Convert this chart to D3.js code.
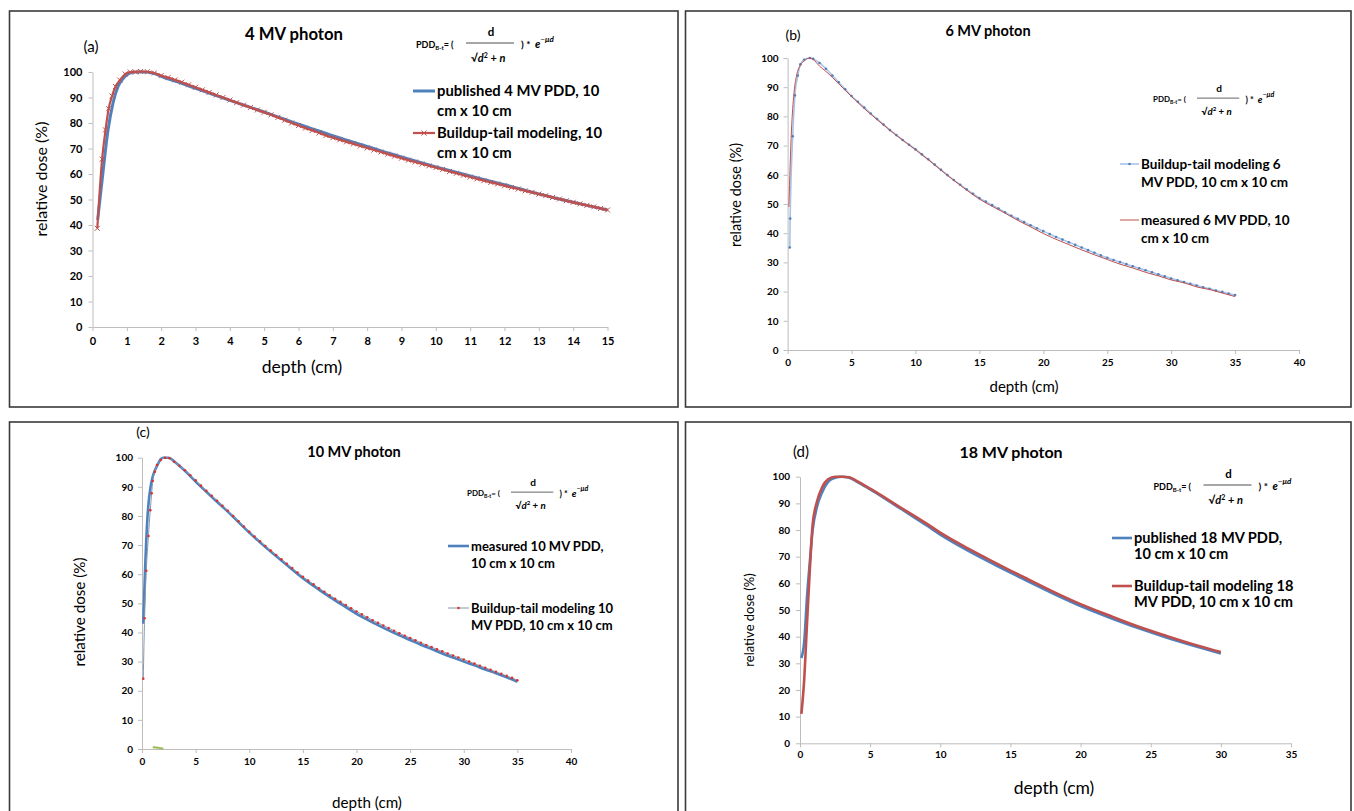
<!DOCTYPE html>
<html>
<head>
<meta charset="utf-8">
<script src="https://cdn.jsdelivr.net/npm/d3@7"></script>
<style>
body { margin: 0; background: #fff; }
svg { display: block; }
text { font-family: Lato, "Open Sans", sans-serif; }
</style>
</head>
<body>
<div id="chart"></div>
<script>
// ---- data ----
var yTicks = [0, 10, 20, 30, 40, 50, 60, 70, 80, 90, 100];
var aXTicks = [0, 1, 2, 3, 4, 5, 6, 7, 8, 9, 10, 11, 12, 13, 14, 15];
var bXTicks = [0, 5, 10, 15, 20, 25, 30, 35, 40];
var cXTicks = [0, 5, 10, 15, 20, 25, 30, 35, 40];
var dXTicks = [0, 5, 10, 15, 20, 25, 30, 35];

var titles = ["4 MV photon", "6 MV photon", "10 MV photon", "18 MV photon"];
var tags = ["(a)", "(b)", "(c)", "(d)"];

// (a) 4 MV
var aPubDepth = [0.15,0.3,0.45,0.6,0.75,0.9,1.05,1.2,1.5,1.8,2,2.5,3,3.5,4,4.5,5,5.5,6,6.5,7,7.5,8,8.5,9,9.5,10,10.5,11,11.5,12,12.5,13,13.5,14,14.5,15];
var aPub = [42,60,77,88,94.5,97.5,99.3,100,100,99.4,98.3,96,93.6,91.2,88.9,86.6,84.3,81.9,79.5,77.3,75,72.9,70.8,68.7,66.7,64.7,62.8,61,59.2,57.5,55.8,54,52.2,50.5,48.9,47.4,45.9];
var aModelDepth = [0.14,0.28,0.38,0.47,0.57,0.67,0.8,0.95,1.1,1.25,
  1.4,1.6,1.8,2.0,2.2,2.4,2.6,2.8,3.0,3.2,3.4,3.6,3.8,4.0,4.2,4.4,4.6,4.8,5.0,5.2,5.4,5.6,5.8,6.0,
  6.2,6.4,6.6,6.8,7.0,7.2,7.4,7.6,7.8,8.0,8.2,8.4,8.6,8.8,9.0,9.2,9.4,9.6,9.8,10.0,10.2,10.4,10.6,10.8,
  11.0,11.2,11.4,11.6,11.8,12.0,12.2,12.4,12.6,12.8,13.0,13.2,13.4,13.6,13.8,14.0,14.2,14.4,14.6,14.8,15.0];
var aModel = [38.7,65.8,77.3,85.6,90.6,94.3,96.8,99.2,100,100,
  100.2,100.1,99.6,98.6,97.8,96.9,96.0,95.0,94.0,93.0,92.0,91.0,90.0,89.0,88.0,87.0,86.1,85.1,84.2,83.2,82.2,81.1,80.0,79.0,
  78.0,77.1,76.1,75.1,74.2,73.4,72.6,71.8,71.0,70.2,69.4,68.6,67.8,67.0,66.2,65.4,64.7,63.9,63.2,62.5,61.8,61.0,60.3,59.5,
  58.8,58.1,57.4,56.7,56.1,55.4,54.7,54.1,53.4,52.8,52.1,51.5,50.8,50.2,49.5,48.9,48.3,47.7,47.1,46.5,45.9];

// (b) 6 MV
var bModelDepth = [0.17,0.2,0.4,0.57,0.8,1.0,1.3,1.75,
  2,2.5,3,3.5,4,4.5,5,5.5,6,6.5,7,7.5,8,8.5,9,9.5,10,10.5,11,11.5,12,12.5,13,13.5,14,14.5,15,15.5,16,16.5,17,17.5,
  18,18.5,19,19.5,20,20.5,21,21.5,22,22.5,23,23.5,24,24.5,25,25.5,26,26.5,27,27.5,28,28.5,29,29.5,30,30.5,31,31.5,
  32,32.5,33,33.5,34,34.5,35];
var bModel = [35.1,45,73.2,87.2,94,97.8,99.4,100,
  99.7,98.3,96.3,94.0,91.7,89.3,87.0,85.0,83.0,81.0,79.1,77.2,75.3,73.6,71.9,70.3,68.7,67.0,65.3,63.5,61.7,59.9,58.2,56.6,55.0,53.5,52.0,50.8,49.6,48.4,47.2,46.0,
  44.9,43.8,42.7,41.7,40.7,39.7,38.7,37.8,36.9,36.0,35.1,34.2,33.3,32.4,31.6,30.8,30.1,29.4,28.7,28.0,27.3,26.6,25.9,25.2,24.5,23.9,23.3,22.7,
  22.1,21.5,21.0,20.4,19.9,19.3,18.8];
var bMeasDepth = [0.1,0.3,0.5,0.7,1.0,1.3,1.7,2.0,2.5,3,4,5,6,7,8,9,10,11,12,13,14,15,16,17,18,19,20,21,22,23,24,25,26,27,28,29,30,31,32,33,34,35];
var bMeas = [49,75,88,94,97.5,99,100,99.5,97.2,95.4,91.2,86.8,82.7,78.9,75.3,71.9,68.6,65.2,61.6,58.1,54.8,51.7,49.2,46.9,44.4,42.2,39.9,37.9,36.1,34.3,32.6,31.0,29.4,28.1,26.6,25.4,24.0,23.0,21.6,20.7,19.5,18.3];

// (c) 10 MV
var cMeasDepth = [0.12,0.2,0.3,0.4,0.5,0.6,0.8,1.0,1.25,1.5,1.75,2,2.5,3,4,5,6,7,8,9,10,11,12,13,14,15,16,17,18,19,20,21,22,23,24,25,26,27,28,29,30,31,32,33,34,35];
var cMeas = [43,52,63,72,79,84,90,93.5,96,98,99.5,100,100,98.7,95.5,91.8,88.3,84.9,81.5,77.9,74.3,71.0,67.8,64.7,61.6,58.6,56.0,53.4,51.0,48.7,46.4,44.4,42.5,40.7,39.0,37.4,35.8,34.3,32.8,31.4,30.0,28.7,27.3,26.0,24.6,23.1];
var cModelDepth = [0.12,0.24,0.4,0.6,0.77,0.9,1.0,1.2,1.4,1.75,2.15,2.56,
  3,3.5,4,4.5,5,5.5,6,6.5,7,7.5,8,8.5,9,9.5,10,10.5,11,11.5,12,12.5,13,13.5,14,14.5,15,15.5,16,16.5,17,17.5,
  18,18.5,19,19.5,20,20.5,21,21.5,22,22.5,23,23.5,24,24.5,25,25.5,26,26.5,27,27.5,28,28.5,29,29.5,30,30.5,31,31.5,
  32,32.5,33,33.5,34,34.5,35];
var cModel = [24.1,44.9,61.2,73.1,82,87.8,92,95.2,97.5,99.2,100,99.8,
  98.6,97.2,95.7,94.0,92.2,90.4,88.6,86.9,85.2,83.5,81.8,80.0,78.2,76.4,74.6,72.9,71.3,69.7,68.1,66.6,65.1,63.6,62.1,60.6,59.1,57.8,56.5,55.2,54.0,52.8,
  51.6,50.5,49.4,48.3,47.2,46.2,45.2,44.2,43.3,42.4,41.5,40.6,39.7,38.9,38.1,37.3,36.5,35.7,35.0,34.2,33.5,32.8,32.1,31.4,30.7,30.0,29.3,28.6,
  27.9,27.2,26.5,25.8,25.1,24.4,23.6];
var cExtraDepth = [1, 1.5, 2];
var cExtra = [0.6, 0.45, 0.1];

// (d) 18 MV
var dPubDepth = [0.1,0.3,0.5,0.7,0.9,1.2,1.6,2.0,2.5,3.0,3.5,4,5,6,7,8,9,10,12,14,15,16,18,20,22,24,25,26,28,30];
var dPub = [32,38,55,68,80,88.5,94.4,98,99.6,100,99.6,98.3,95.2,92,88.6,85.2,81.8,78.3,72.2,66.7,64,61.4,56.3,51.5,47.3,43.4,41.6,39.9,36.7,33.7];
var dModelDepth = [0.1,0.3,0.5,0.7,0.9,1.2,1.6,2.0,2.5,3.0,3.5,4,5,6,7,8,9,10,12,14,15,16,18,20,22,24,25,26,28,30];
var dModel = [11,24,45,65,82,90.5,96.3,99,100,100,99.8,98.5,95.5,92.3,89,85.8,82.5,79,73,67.5,64.8,62.2,57,52.2,48,44,42.2,40.5,37.2,34.2];

var legendA = [["published 4 MV PDD, 10", "cm x 10 cm"], ["Buildup-tail modeling, 10", "cm x 10 cm"]];
var legendB = [["Buildup-tail modeling 6", "MV PDD, 10 cm x 10 cm"], ["measured 6 MV PDD, 10", "cm x 10 cm"]];
var legendC = [["measured 10 MV PDD,", "10 cm x 10 cm"], ["Buildup-tail modeling 10", "MV PDD, 10 cm x 10 cm"]];
var legendD = [["published 18 MV PDD,", "10 cm x 10 cm"], ["Buildup-tail modeling 18", "MV PDD, 10 cm x 10 cm"]];

function zip(xs, ys) {
    return xs.map(function(d, i) { return {x: d, y: ys[i]}; });
}

var blue = "#4f81bd", red = "#c0504d";

var svg = d3.select("#chart")
    .append("svg")
    .attr("width", 1354)
    .attr("height", 811);

function drawMarker(g, kind, cx, cy, color) {
    if (kind == "x") {
        g.append("path")
            .attr("d", "M" + (cx - 2.5) + "," + (cy - 2.5) + "L" + (cx + 2.5) + "," + (cy + 2.5) +
                       "M" + (cx - 2.5) + "," + (cy + 2.5) + "L" + (cx + 2.5) + "," + (cy - 2.5))
            .attr("stroke", color).attr("stroke-width", 1);
    } else if (kind == "dot") {
        g.append("circle").attr("cx", cx).attr("cy", cy).attr("r", 1.3).attr("fill", color);
    }
}

function formula(x0, y0, s) {
    var f = svg.append("g").attr("transform", "translate(" + x0 + "," + y0 + ") scale(" + s + ")");
    var t = f.append("text").attr("x", 0).attr("y", 3.5).attr("font-size", 9).attr("font-weight", "bold");
    t.append("tspan").text("PDD");
    t.append("tspan").attr("font-size", 6).attr("dy", 2).text("B-t");
    t.append("tspan").attr("font-size", 9).attr("dy", -2).text("= (");
    f.append("line").attr("x1", 50).attr("x2", 98).attr("y1", -1).attr("y2", -1)
        .attr("stroke", "#222").attr("stroke-width", 0.8);
    f.append("text").attr("x", 75).attr("y", -8).attr("text-anchor", "middle")
        .attr("font-size", 11.5).attr("font-weight", "bold").text("d");
    var den = f.append("text").attr("x", 55).attr("y", 18)
        .attr("font-family", "'DejaVu Serif', serif").attr("font-size", 11).attr("font-weight", "bold");
    den.append("tspan").attr("font-style", "normal").text("\u221A");
    den.append("tspan").attr("font-style", "italic").text("d");
    den.append("tspan").attr("font-size", 7).attr("dy", -4).text("2");
    den.append("tspan").attr("font-size", 11).attr("dy", 4).text(" + ");
    den.append("tspan").attr("font-style", "italic").text("n");
    f.append("text").attr("x", 105).attr("y", 4).attr("font-size", 10).attr("font-weight", "bold").text(") *");
    var e = f.append("text").attr("x", 119).attr("y", 4)
        .attr("font-family", "'DejaVu Serif', serif").attr("font-style", "italic").attr("font-size", 11).attr("font-weight", "bold");
    e.append("tspan").text("e");
    e.append("tspan").attr("font-size", 8).attr("dy", -6).text("\u2212\u03BCd");
}

function drawPanel(p) {
    svg.append("rect")
        .attr("x", p.box[0]).attr("y", p.box[1])
        .attr("width", p.box[2]).attr("height", p.box[3])
        .attr("fill", "none").attr("stroke", "#3a3a3a").attr("stroke-width", 1.6);

    var x = d3.scaleLinear().domain([0, p.xTicks[p.xTicks.length - 1]]).range([p.x0, p.x1]);
    var y = d3.scaleLinear().domain([0, 100]).range([p.y0, p.y1]);

    var yAxis = svg.append("g")
        .attr("transform", "translate(" + p.x0 + ",0)")
        .call(d3.axisLeft(y).tickValues(yTicks).tickSize(4).tickSizeOuter(0).tickPadding(p.yPad));
    var xAxis = svg.append("g")
        .attr("transform", "translate(0," + p.y0 + ")")
        .call(d3.axisBottom(x).tickValues(p.xTicks).tickSize(4).tickSizeOuter(0).tickPadding(p.xPad));
    [yAxis, xAxis].forEach(function(a) {
        a.select(".domain").attr("stroke", "#bdbdbd");
        a.selectAll(".tick line").attr("stroke", "#bdbdbd");
        a.selectAll(".tick text")
            .attr("font-family", "Lato, sans-serif")
            .attr("font-weight", "bold")
            .attr("font-size", p.tickFont)
            .attr("fill", "#000");
    });

    var line = d3.line()
        .x(function(d) { return x(d.x); })
        .y(function(d) { return y(d.y); })
        .curve(d3.curveMonotoneX);

    p.series.forEach(function(s) {
        var pts = zip(s.depth, s.values);
        svg.append("path")
            .datum(pts)
            .attr("d", line)
            .attr("fill", "none")
            .attr("stroke", s.color)
            .attr("stroke-width", s.width)
            .attr("stroke-linejoin", "round");
        if (s.marker) {
            var mg = svg.append("g");
            pts.forEach(function(d) {
                drawMarker(mg, s.marker, x(d.x), y(d.y), s.markerColor);
            });
        }
    });

    // legend
    p.legend.forEach(function(l) {
        var s = p.series[l.series];
        svg.append("line")
            .attr("x1", p.lx[0]).attr("x2", p.lx[1])
            .attr("y1", l.y).attr("y2", l.y)
            .attr("stroke", s.color).attr("stroke-width", s.width);
        if (s.marker) drawMarker(svg, s.marker, (p.lx[0] + p.lx[1]) / 2, l.y, s.markerColor);
        l.text.forEach(function(txt, j) {
            svg.append("text")
                .attr("x", p.lx[1] + 2)
                .attr("y", l.y + j * p.lineGap)
                .attr("dy", "0.36em")
                .attr("font-size", p.legendFont)
                .attr("font-weight", "bold")
                .text(txt);
        });
    });

    svg.append("text")
        .attr("x", p.title[0]).attr("y", p.title[1]).attr("dy", "0.36em")
        .attr("text-anchor", "middle").attr("font-weight", "bold")
        .attr("font-size", p.title[2]).text(p.titleText);
    svg.append("text")
        .attr("x", p.tag[0]).attr("y", p.tag[1]).attr("dy", "0.36em")
        .attr("text-anchor", "middle").attr("font-size", p.tag[2]).text(p.tagText);

    svg.append("text")
        .attr("transform", "translate(" + p.yTitle[0] + "," + p.yTitle[1] + ") rotate(-90)")
        .attr("dy", "0.36em").attr("text-anchor", "middle")
        .attr("font-size", p.yTitle[2]).text("relative dose (%)");
    svg.append("text")
        .attr("x", p.xTitle[0]).attr("y", p.xTitle[1]).attr("dy", "0.36em")
        .attr("text-anchor", "middle").attr("font-size", p.xTitle[2]).text("depth (cm)");

    formula(p.formula[0], p.formula[1], p.formula[2]);
}

drawPanel({
    box: [9.5, 11, 668.5, 396],
    x0: 92.5, x1: 607.5, y0: 327, y1: 72,
    xTicks: aXTicks, tickFont: 11, yPad: 6, xPad: 6,
    series: [
        {depth: aPubDepth, values: aPub, color: blue, width: 3},
        {depth: aModelDepth, values: aModel, color: red, width: 2.2, marker: "x", markerColor: red}
    ],
    lx: [413, 435], lineGap: 20, legendFont: 14.8,
    legend: [
        {series: 0, y: 91, text: legendA[0]},
        {series: 1, y: 133, text: legendA[1]}
    ],
    title: [294, 34, 16.7], titleText: titles[0],
    tag: [91, 47, 15], tagText: tags[0],
    yTitle: [41, 179, 16], xTitle: [302, 367, 17.5],
    formula: [416, 44, 1]
});

drawPanel({
    box: [685.5, 11, 665.5, 396],
    x0: 787.6, x1: 1299, y0: 350, y1: 58,
    xTicks: bXTicks, tickFont: 10, yPad: 5, xPad: 5,
    series: [
        {depth: bModelDepth, values: bModel, color: "#a9c4e6", width: 1.6, marker: "dot", markerColor: blue},
        {depth: bMeasDepth, values: bMeas, color: red, width: 1}
    ],
    lx: [1120, 1139], lineGap: 18, legendFont: 13.5,
    legend: [
        {series: 0, y: 164, text: legendB[0]},
        {series: 1, y: 220, text: legendB[1]}
    ],
    title: [988, 31, 14.5], titleText: titles[1],
    tag: [793, 35, 14], tagText: tags[1],
    yTitle: [736, 195, 14.5], xTitle: [1024, 387, 15],
    formula: [1153, 99, 0.88]
});

drawPanel({
    box: [9.5, 422, 668.5, 400],
    x0: 142, x1: 571, y0: 749, y1: 457.7,
    xTicks: cXTicks, tickFont: 10, yPad: 5, xPad: 5,
    series: [
        {depth: cMeasDepth, values: cMeas, color: blue, width: 2.6},
        {depth: cModelDepth, values: cModel, color: "#8497b0", width: 1, marker: "dot", markerColor: "#e0302a"},
        {depth: cExtraDepth, values: cExtra, color: "#9bbb59", width: 2}
    ],
    lx: [448, 469], lineGap: 17, legendFont: 13,
    legend: [
        {series: 0, y: 546, text: legendC[0]},
        {series: 1, y: 608, text: legendC[1]}
    ],
    title: [354, 452, 14.5], titleText: titles[2],
    tag: [143, 432, 14], tagText: tags[2],
    yTitle: [80, 612, 15.2], xTitle: [367, 803, 15.2],
    formula: [467, 493, 0.88]
});

drawPanel({
    box: [685.5, 422, 665.5, 400],
    x0: 800, x1: 1291, y0: 743.3, y1: 476.7,
    xTicks: dXTicks, tickFont: 10, yPad: 6, xPad: 4,
    series: [
        {depth: dPubDepth, values: dPub, color: blue, width: 2.6},
        {depth: dModelDepth, values: dModel, color: red, width: 2.6}
    ],
    lx: [1112, 1132], lineGap: 16, legendFont: 14.6,
    legend: [
        {series: 0, y: 538, text: legendD[0]},
        {series: 1, y: 586, text: legendD[1]}
    ],
    title: [1011, 452, 16], titleText: titles[3],
    tag: [801, 452, 15], tagText: tags[3],
    yTitle: [749, 620, 13], xTitle: [1054, 788, 17.5],
    formula: [1153.5, 486, 1]
});
</script>
</body>
</html>
